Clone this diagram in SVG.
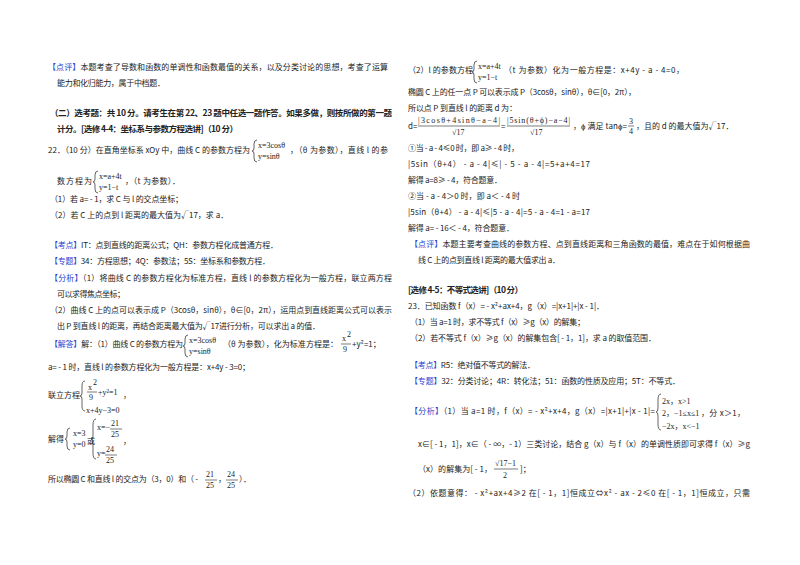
<svg xmlns="http://www.w3.org/2000/svg" width="800" height="565" viewBox="0 0 800 565">
<style>
text{font-family:"Noto Sans CJK SC","Liberation Sans",sans-serif;font-size:8px;fill:#222}
.b{font-weight:bold;font-size:8.5px}
.l{fill:#2a3fd0}
.m{font-family:"Liberation Serif","Noto Sans CJK SC",serif;font-size:8px}
.br{fill:none;stroke:#222;stroke-width:0.7}
.fl{stroke:#222;stroke-width:0.6}
</style>
<rect width="800" height="565" fill="#fff"/>
<g id="left">
<text x="48" y="70" textLength="340"><tspan class="l">【点评】</tspan>本题考查了导数和函数的单调性和函数最值的关系，以及分类讨论的思想，考查了运算</text>
<text x="57" y="86" textLength="108">能力和化归能力，属于中档题．</text>
<text x="50" y="116" class="b" textLength="342">（二）选考题：共 10 分。请考生在第 22、23 题中任选一题作答。如果多做，则按所做的第一题</text>
<text x="57" y="132" class="b" textLength="181">计分。[选修 4-4：坐标系与参数方程选讲]（10 分）</text>
<text x="48" y="153" textLength="202">22．（10 分）在直角坐标系 xOy 中，曲线 C 的参数方程为</text>
<path class="br" d="M257,140 q-3,0 -3,4 v4 q0,3 -2,3 q2,0 2,3 v4 q0,4 3,4"/>
<text x="258" y="148" class="m">x=3cosθ</text><text x="258" y="159" class="m">y=sinθ</text>
<text x="290" y="153" textLength="98">，（θ 为参数），直线 l 的参</text>
<text x="57" y="184" textLength="35">数方程为</text>
<path class="br" d="M98,171 q-3,0 -3,4 v4 q0,3 -2,3 q2,0 2,3 v4 q0,4 3,4"/>
<text x="99" y="179" class="m">x=a+4t</text><text x="99" y="190" class="m">y=1−t</text>
<text x="125" y="184" textLength="55">，（t 为参数）．</text>
<text x="50" y="202" textLength="133">（1）若 a= - 1，求 C 与 l 的交点坐标；</text>
<text x="50" y="218">（2）若 C 上的点到 l 距离的最大值为√17，求 a．</text>
<text x="50" y="248" textLength="228"><tspan class="l">【考点】</tspan>IT：点到直线的距离公式；QH：参数方程化成普通方程．</text>
<text x="50" y="264" textLength="220"><tspan class="l">【专题】</tspan>34：方程思想；4Q：参数法；5S：坐标系和参数方程．</text>
<text x="50" y="281" textLength="342"><tspan class="l">【分析】</tspan>（1）将曲线 C 的参数方程化为标准方程，直线 l 的参数方程化为一般方程，联立两方程</text>
<text x="57" y="297" textLength="68">可以求得焦点坐标；</text>
<text x="50" y="313" textLength="342">（2）曲线 C 上的点可以表示成 P（3cosθ，sinθ），θ∈[0，2π），运用点到直线距离公式可以表示</text>
<text x="57" y="329" textLength="263">出 P 到直线 l 的距离，再结合距离最大值为√17进行分析，可以求出 a 的值．</text>
<text x="50" y="347" textLength="133"><tspan class="l">【解答】</tspan>解：（1）曲线 C 的参数方程为</text>
<path class="br" d="M188,335 q-3,0 -3,4 v4 q0,3 -2,3 q2,0 2,3 v4 q0,4 3,4"/>
<text x="189" y="343" class="m">x=3cosθ</text><text x="189" y="354" class="m">y=sinθ</text>
<text x="223" y="347" textLength="115">（θ 为参数），化为标准方程是：</text>
<text x="342" y="341" class="m">x</text><text x="347" y="337" class="m" font-size="6">2</text>
<line class="fl" x1="341" y1="344" x2="351" y2="344"/><text x="343" y="352" class="m">9</text>
<text x="352" y="347">+y²=1；</text>
<text x="48" y="370" textLength="202">a= - 1 时，直线 l 的参数方程化为一般方程是：x+4y - 3=0；</text>
<text x="48" y="398">联立方程</text>
<path class="br" d="M85,381 q-3,0 -3,5 v7 q0,3 -2,3 q2,0 2,3 v7 q0,5 3,5"/>
<text x="88" y="390" class="m">x</text><text x="93" y="385" class="m" font-size="6">2</text>
<line class="fl" x1="87" y1="392" x2="97" y2="392"/><text x="89" y="400" class="m">9</text>
<text x="98" y="395" class="m">+y²=1</text>
<text x="86" y="413" class="m">x+4y−3=0</text>
<text x="123" y="398">，</text>
<text x="48" y="442">解得</text>
<path class="br" d="M70,428 q-3,0 -3,4 v4 q0,3 -2,3 q2,0 2,3 v4 q0,4 3,4"/>
<text x="73" y="436" class="m">x=3</text><text x="73" y="447" class="m">y=0</text>
<text x="87" y="444">或</text>
<path class="br" d="M96,419 q-3,0 -3,6 v11 q0,3 -2,3 q2,0 2,3 v11 q0,6 3,6"/>
<text x="97" y="430" class="m">x=−</text><text x="111" y="426" class="m">21</text>
<line class="fl" x1="110" y1="429" x2="122" y2="429"/><text x="111" y="437" class="m">25</text>
<text x="123" y="444">，</text>
<text x="97" y="456" class="m">y=</text><text x="106" y="452" class="m">24</text>
<line class="fl" x1="105" y1="455" x2="117" y2="455"/><text x="106" y="463" class="m">25</text>
<text x="48" y="482" textLength="150">所以椭圆 C 和直线 l 的交点为（3，0）和（ -</text>
<text x="206" y="477" class="m">21</text><line class="fl" x1="205" y1="480" x2="217" y2="480"/><text x="206" y="488" class="m">25</text>
<text x="218" y="482">，</text>
<text x="227" y="477" class="m">24</text><line class="fl" x1="226" y1="480" x2="238" y2="480"/><text x="227" y="488" class="m">25</text>
<text x="239" y="482">）．</text>
</g>
<g id="right">
<text x="408" y="73" textLength="65">（2）l 的参数方程</text>
<path class="br" d="M477,61 q-3,0 -3,4 v4 q0,3 -2,3 q2,0 2,3 v4 q0,4 3,4"/>
<text x="478" y="69" class="m">x=a+4t</text><text x="478" y="80" class="m">y=1−t</text>
<text x="504" y="73" textLength="180">（t 为参数）化为一般方程是：x+4y - a - 4=0，</text>
<text x="408" y="95" textLength="228">椭圆 C 上的任一点 P 可以表示成 P（3cosθ，sinθ），θ∈[0，2π），</text>
<text x="408" y="111" textLength="109">所以点 P 到直线 l 的距离 d 为：</text>
<text x="408" y="129">d=</text>
<text x="418" y="123" class="m" textLength="82">|3cosθ+4sinθ−a−4|</text>
<line class="fl" x1="418" y1="126" x2="500" y2="126"/>
<text x="452" y="135" class="m">√17</text>
<text x="501" y="129">=</text>
<text x="507" y="123" class="m" textLength="63">|5sin(θ+ϕ)−a−4|</text>
<line class="fl" x1="507" y1="126" x2="570" y2="126"/>
<text x="530" y="135" class="m">√17</text>
<text x="573" y="129" textLength="54">，ϕ 满足 tanϕ=</text>
<text x="629" y="124" class="m">3</text><line class="fl" x1="628" y1="126" x2="634" y2="126"/><text x="629" y="134" class="m">4</text>
<text x="636" y="129">，且的 d 的最大值为√17．</text>
<text x="408" y="151" textLength="111">①当 - a - 4≤0 时，即 a≥ - 4 时，</text>
<text x="408" y="167" textLength="182">|5sin（θ+4） - a - 4|≤| - 5 - a - 4|=5+a+4=17</text>
<text x="408" y="183" textLength="94">解得 a=8≥ - 4，符合题意．</text>
<text x="408" y="199" textLength="112">②当 - a - 4＞0 时，即 a＜ - 4 时</text>
<text x="408" y="215" textLength="182">|5sin（θ+4） - a - 4|≤|5 - a - 4|=5 - a - 4=1 - a=17</text>
<text x="408" y="231" textLength="106">解得 a= - 16＜ - 4，符合题意．</text>
<text x="410" y="247" textLength="340"><tspan class="l">【点评】</tspan>本题主要考查曲线的参数方程、点到直线距离和三角函数的最值，难点在于如何根据曲</text>
<text x="418" y="263" textLength="142">线 C 上的点到直线 l 距离的最大值求出 a．</text>
<text x="408" y="293" class="b" textLength="115">[选修 4-5：不等式选讲]（10 分）</text>
<text x="408" y="309" textLength="196">23．已知函数 f（x）= - x²+ax+4，g（x）=|x+1|+|x - 1|．</text>
<text x="410" y="325" textLength="175">（1）当 a=1 时，求不等式 f（x）≥g（x）的解集；</text>
<text x="410" y="341" textLength="246">（2）若不等式 f（x）≥g（x）的解集包含[ - 1，1]，求 a 的取值范围．</text>
<text x="410" y="368" textLength="125"><tspan class="l">【考点】</tspan>R5：绝对值不等式的解法．</text>
<text x="410" y="384" textLength="270"><tspan class="l">【专题】</tspan>32：分类讨论；4R：转化法；51：函数的性质及应用；5T：不等式．</text>
<text x="410" y="414" textLength="245"><tspan class="l">【分析】</tspan>（1）当 a=1 时，f（x）= - x²+x+4，g（x）=|x+1|+|x - 1|=</text>
<path class="br" d="M661,394 q-3,0 -3,6 v8 q0,4 -2,4 q2,0 2,4 v8 q0,6 3,6"/>
<text x="662" y="404" class="m">2x，x&gt;1</text>
<text x="662" y="416" class="m">2，−1≤x≤1</text>
<text x="662" y="429" class="m">−2x，x&lt;−1</text>
<text x="701" y="416" textLength="44">，分 x＞1，</text>
<text x="418" y="447" textLength="332">x∈[ - 1，1]，x∈（ - ∞，- 1）三类讨论，结合 g（x）与 f（x）的单调性质即可求得 f（x）≥g</text>
<text x="418" y="472" textLength="74">（x）的解集为[ - 1，</text>
<text x="495" y="466" class="m">√17−1</text><line class="fl" x1="494" y1="469" x2="518" y2="469"/><text x="503" y="478" class="m">2</text>
<text x="520" y="472">]；</text>
<text x="408" y="496" textLength="342">（2）依题意得： - x²+ax+4≥2 在[ - 1，1]恒成立⇔x² - ax - 2≤0 在[ - 1，1]恒成立，只需</text>
</g>
</svg>
